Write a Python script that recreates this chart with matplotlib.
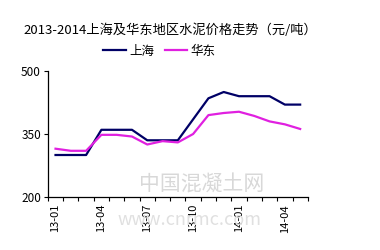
import numpy as np
import matplotlib.pyplot as plt
from matplotlib.ticker import FixedLocator

plt.rcParams['font.family'] = ['Noto Sans CJK SC', 'DejaVu Sans']

# 月份 13-01 ~ 14-05
months = ['13-01', '13-02', '13-03', '13-04', '13-05', '13-06', '13-07', '13-08', '13-09',
          '13-10', '13-11', '13-12', '14-01', '14-02', '14-03', '14-04', '14-05']
shanghai = [300, 300, 300, 360, 360, 360, 335, 335, 335, 385, 435, 450, 440, 440, 440, 420, 420]
huadong = [315, 310, 310, 348, 348, 344, 325, 333, 330, 350, 395, 400, 403, 393, 380, 373, 362]

x = np.arange(len(months))

fig = plt.figure(figsize=(3.8, 2.5), dpi=100)
ax = fig.add_axes([0.126, 0.212, 0.684, 0.504])

ax.plot(x, shanghai, color='#000066', lw=1.6, label='上海')
ax.plot(x, huadong, color='#e020e0', lw=1.6, label='华东')

ax.set_xlim(-0.5, len(months) - 0.5)
ax.set_ylim(200, 500)
ax.set_yticks([200, 350, 500])
ax.tick_params(axis='y', labelsize=8.5, length=3, width=0.8, pad=2)

ax.set_xticks(x[::3])
ax.set_xticklabels(months[::3], rotation=90, fontsize=8)
ax.xaxis.set_minor_locator(FixedLocator(np.arange(-0.5, len(months), 1)))
ax.tick_params(axis='x', which='major', length=0, pad=5)
ax.tick_params(axis='x', which='minor', length=3, width=0.8)

for s in ['top', 'right']:
    ax.spines[s].set_visible(False)
for s in ['left', 'bottom']:
    ax.spines[s].set_linewidth(0.9)

fig.text(0.063, 0.88, '2013-2014上海及华东地区水泥价格走势（元/吨）', fontsize=9.5, va='center')
fig.legend(loc='center', bbox_to_anchor=(0.42, 0.795), ncol=2, frameon=False,
           fontsize=9, handlelength=1.8, handletextpad=0.3, columnspacing=0.8)

# 水印
fig.text(0.53, 0.26, '中国混凝土网', fontsize=15, color='#d8d8d8', ha='center', va='center', zorder=0)
fig.text(0.50, 0.12, 'www.cnrmc.com', fontsize=13, color='#e0e0e0', ha='center', va='center',
         style='italic', zorder=0)

fig.savefig('out.png', dpi=100)
